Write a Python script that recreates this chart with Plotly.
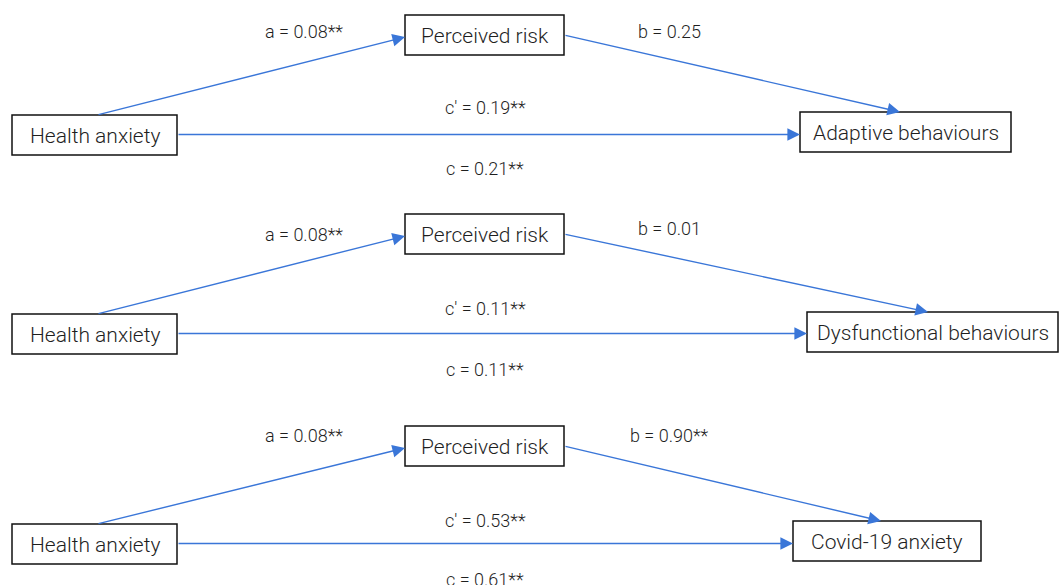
import plotly.graph_objects as go

# ---- data ----
predictor = ["Health anxiety", "Health anxiety", "Health anxiety"]
mediator = ["Perceived risk", "Perceived risk", "Perceived risk"]
outcomes = ["Adaptive behaviours", "Dysfunctional behaviours", "Covid-19 anxiety"]
a_coef = ["a = 0.08**", "a = 0.08**", "a = 0.08**"]
b_coef = ["b = 0.25", "b = 0.01", "b = 0.90**"]
cprime_coef = ["c\u2032 = 0.19**", "c\u2032 = 0.11**", "c\u2032 = 0.53**"]
c_coef = ["c = 0.21**", "c = 0.11**", "c = 0.61**"]

# ---- layout geometry (pixel-like coordinates of the page) ----
W, H = 1059, 585
panels = [
    dict(pred=(12, 177, 115, 155), med=(405, 564, 15, 55), out=(800, 1011, 112, 152),
         a_lab=(304, 31), b_lab=(669, 31), cp_lab=(485, 107), c_lab=(485, 168), b_tip=900),
    dict(pred=(12, 177, 314, 354), med=(405, 564, 214, 254), out=(807, 1058, 312, 352),
         a_lab=(304, 234), b_lab=(669, 228), cp_lab=(485, 308), c_lab=(485, 369), b_tip=928),
    dict(pred=(12, 177, 524, 564), med=(405, 564, 426, 466), out=(793, 981, 521, 561),
         a_lab=(304, 435), b_lab=(669, 435), cp_lab=(485, 520), c_lab=(485, 579), b_tip=881),
]

BLUE = "#3a76d8"
TXT = "#1f1f1f"
FONT = "Roboto"

shapes = []
annotations = []


def box(rect, label):
    x0, x1, y0, y1 = rect
    shapes.append(dict(type="rect", xref="x", yref="y", x0=x0, x1=x1, y0=y0, y1=y1,
                       line=dict(color="#111111", width=1.5), fillcolor="white", layer="above"))
    annotations.append(dict(x=(x0 + x1) / 2, y=(y0 + y1) / 2 + 1, xref="x", yref="y", text=label,
                            showarrow=False,
                            font=dict(family=FONT, size=21, color=TXT, weight=300)))


def arrow(x0, y0, x1, y1):
    annotations.append(dict(x=x1, y=y1, ax=x0, ay=y0, xref="x", yref="y", axref="x", ayref="y",
                            text="", showarrow=True, arrowhead=2, arrowsize=1.8, arrowwidth=1.4,
                            arrowcolor=BLUE, standoff=0, startstandoff=0))


def label(pos, text):
    annotations.append(dict(x=pos[0], y=pos[1], xref="x", yref="y", text=text, showarrow=False,
                            font=dict(family=FONT, size=18, color=TXT, weight=300)))


for i, p in enumerate(panels):
    px0, px1, py0, py1 = p["pred"]
    mx0, mx1, my0, my1 = p["med"]
    ox0, ox1, oy0, oy1 = p["out"]
    pmid = (py0 + py1) / 2
    mmid = (my0 + my1) / 2
    arrow(97, py0, mx0, mmid + 2)            # a path
    arrow(mx1, mmid, p["b_tip"], oy0)        # b path
    arrow(px1, pmid - 0.5, ox0, pmid - 0.5)  # c' path
    box(p["pred"], predictor[i])
    box(p["med"], mediator[i])
    box(p["out"], outcomes[i])
    label(p["a_lab"], a_coef[i])
    label(p["b_lab"], b_coef[i])
    label(p["cp_lab"], cprime_coef[i])
    label(p["c_lab"], c_coef[i])

fig = go.Figure()
fig.update_layout(
    width=W, height=H,
    margin=dict(l=0, r=0, t=0, b=0),
    paper_bgcolor="white", plot_bgcolor="white",
    xaxis=dict(range=[0, W], visible=False, fixedrange=True),
    yaxis=dict(range=[H, 0], visible=False, fixedrange=True),
    shapes=shapes, annotations=annotations,
    showlegend=False,
)
fig.write_html(
    "out.html",
    config={"displayModeBar": False},
    post_script="document.body.style.margin='0';document.body.style.overflow='hidden';",
)
